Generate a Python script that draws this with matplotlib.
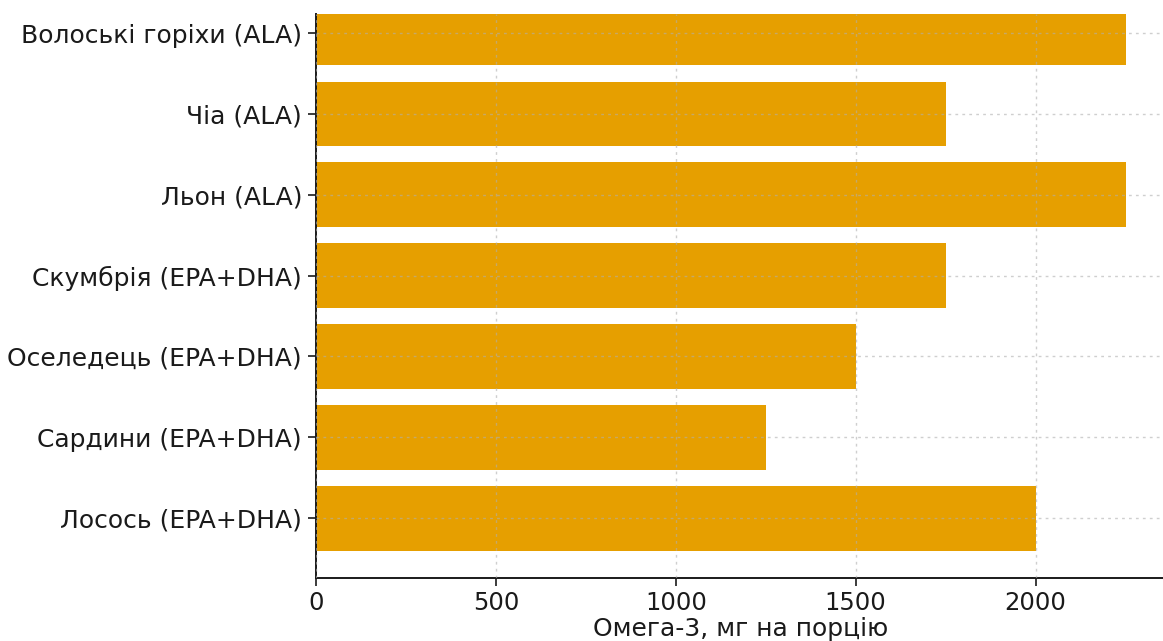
import matplotlib.pyplot as plt

foods = [
    "Лосось (EPA+DHA)",
    "Сардини (EPA+DHA)",
    "Оселедець (EPA+DHA)",
    "Скумбрія (EPA+DHA)",
    "Льон (ALA)",
    "Чіа (ALA)",
    "Волоські горіхи (ALA)",
]
omega3_mg = [2000, 1250, 1500, 1750, 2250, 1750, 2250]

W, H = 1163, 641
fig = plt.figure(figsize=(W / 100, H / 100), dpi=100)

# axes box in pixels: left 316, right ~1166, top 14, bottom 578
left, right, top, bottom = 316, 1166, 14, 578
ax = fig.add_axes([left / W, 1 - bottom / H, (right - left) / W, (bottom - top) / H])

ax.barh(foods, omega3_mg, height=0.8, color="#E69F00")

ax.set_xlim(0, 2362.5)
ax.set_ylim(-0.74, 6.235)
ax.set_xticks([0, 500, 1000, 1500, 2000])

ax.grid(True, linestyle=(0, (2, 3)), color="#b0b0b0", linewidth=1, alpha=0.6)
ax.set_axisbelow(False)

for side in ["top", "right"]:
    ax.spines[side].set_visible(False)
for side in ["left", "bottom"]:
    ax.spines[side].set_linewidth(1.4)
    ax.spines[side].set_color("#1a1a1a")

ax.tick_params(axis="y", labelsize=18, colors="#1a1a1a", length=6, width=1.2, pad=4)
ax.tick_params(axis="x", labelsize=17.5, colors="#1a1a1a", length=6, width=1.2, pad=3)
ax.set_xlabel("Омега-3, мг на порцію", fontsize=18, color="#1a1a1a", labelpad=2)

fig.savefig("out.png", dpi=100)
